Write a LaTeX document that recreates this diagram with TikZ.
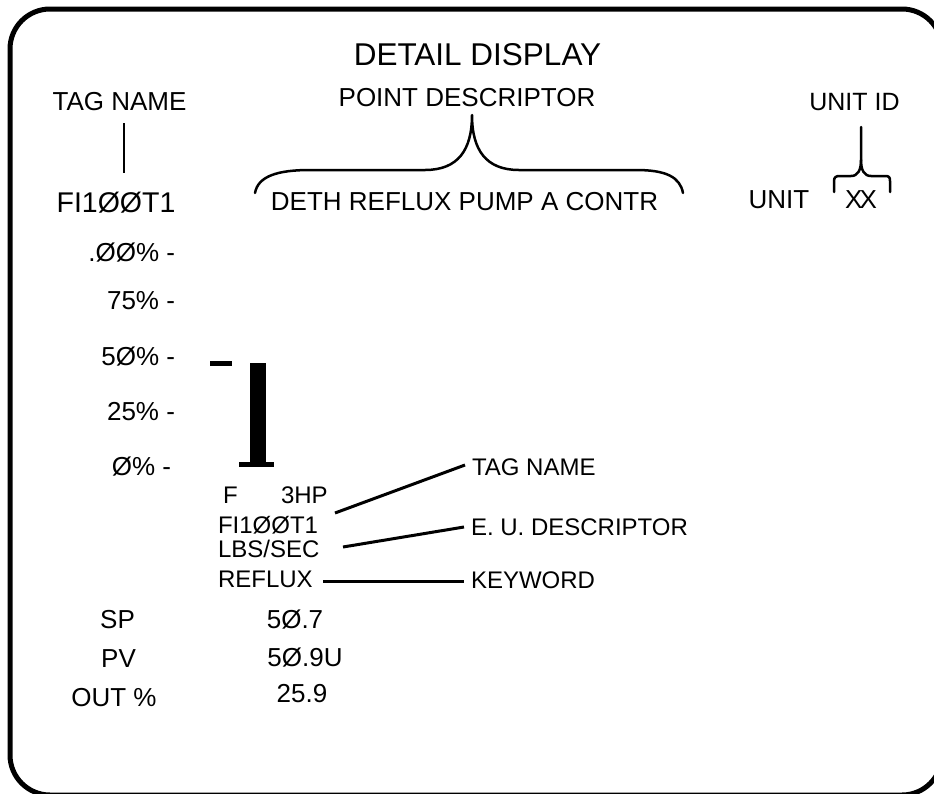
\documentclass[tikz,border=0pt]{standalone}
\usepackage{fontspec}
\setmainfont{Liberation Sans}
\begin{document}
\begin{tikzpicture}[x=1pt,y=-1pt,
  txt/.style={inner sep=0pt, outer sep=0pt, anchor=base},
  lefttxt/.style={inner sep=0pt, outer sep=0pt, anchor=base west},
  righttxt/.style={inner sep=0pt, outer sep=0pt, anchor=base east},
  big/.style={font=\fontsize{26}{30}\selectfont},
  small/.style={font=\fontsize{24}{28}\selectfont},
  frame/.style={line width=5pt, rounded corners=40pt},
  brace/.style={line width=2.5pt, line cap=round, line join=round},
  leader/.style={line width=3pt},
  barfill/.style={fill=black, draw=none}]
\useasboundingbox (0,0) rectangle (934,793);
\clip (0,0) rectangle (934,793);
\fill[white] (0,0) rectangle (934,793);
% frame
\draw[frame] (10,9) rectangle (942,795);
% header texts
\node[txt,font=\fontsize{31.5}{36}\selectfont] (title) at (477.5,65) {DETAIL DISPLAY};
\node[txt,big] (tagtop) at (119.5,110) {TAG NAME};
\node[txt,big] (pdesc) at (467,106) {POINT DESCRIPTOR};
\node[txt,font=\fontsize{25}{30}\selectfont] (unitid) at (854.5,110) {UNIT ID};
\node[txt,font=\fontsize{28.5}{32}\selectfont] (fitop) at (116,212) {FI1ØØT1};
\node[txt,big] (deth) at (464.5,210) {DETH REFLUX PUMP A CONTR};
\node[txt,big] (unit) at (779,208) {UNIT};
\node[txt,big] (xx) at (861,208) {X\kern-3ptX};
% tag name line
\coordinate (tl1) at (124,123);
\coordinate (tl2) at (124,173);
\draw[line width=2.5pt] (tl1) -- (tl2);
% point descriptor brace
\coordinate (pbl) at (255,193);
\coordinate (pbtip) at (472,115);
\coordinate (pbr) at (683,193);
\draw[brace] (pbl) .. controls (258,176) and (278,170) .. (310,170) -- (425,170)
  .. controls (458,170) and (472,150) .. (pbtip)
  .. controls (472,150) and (486,170) .. (519,170) -- (636,170)
  .. controls (666,170) and (680,177) .. (pbr);
% unit id brace
\coordinate (ubl) at (834,192);
\coordinate (ubtop) at (861,127);
\coordinate (ubr) at (890,192);
\draw[brace] (ubl) -- (834,181) .. controls (834,177) and (836,176) .. (840,176) -- (851,176)
  .. controls (858,176) and (861,170) .. (861,160) -- (ubtop);
\draw[brace] (861,160) .. controls (861,170) and (864,176) .. (871,176) -- (885,176)
  .. controls (889,176) and (890,177) .. (890,181) -- (ubr);
% scale
\node[righttxt,big] (s100) at (175,261) {.ØØ\% -};
\node[righttxt,big] (s75) at (175,309) {75\% -};
\node[righttxt,big] (s50) at (175,365) {5Ø\% -};
\node[righttxt,big] (s25) at (175,420) {25\% -};
\node[righttxt,big] (s0) at (171,475) {Ø\% -};
% bar graph
\fill[barfill] (210,361) rectangle (232,366);
\fill[barfill] (250,363) rectangle (266,463);
\fill[barfill] (239,462) rectangle (274,467);
% lower block
\node[lefttxt,small] (f) at (223,503) {F};
\node[lefttxt,small] (hp) at (281,503) {3HP};
\node[lefttxt,small] (fi2) at (218,533) {FI1ØØT1};
\node[lefttxt,small] (lbs) at (218,557) {LBS/SEC};
\node[lefttxt,small] (refl) at (218,587) {REFLUX};
\node[lefttxt,small] (tagr) at (472,475) {TAG NAME};
\node[lefttxt,small] (eud) at (471,535) {E. U. DESCRIPTOR};
\node[lefttxt,small] (kw) at (471,588) {KEYWORD};
\coordinate (a1) at (335,513);
\coordinate (a2) at (465,465);
\coordinate (b1) at (343,547);
\coordinate (b2) at (464,527);
\coordinate (c1) at (323,581);
\coordinate (c2) at (464,581);
\draw[leader] (a1) -- (a2);
\draw[leader] (b1) -- (b2);
\draw[leader] (c1) -- (c2);
% values
\node[txt,big] (sp) at (117.5,628) {SP};
\node[txt,big] (pv) at (118.5,667) {PV};
\node[txt,big] (out) at (114,706) {OUT \%};
\node[txt,big] (spv) at (295,628) {5Ø.7};
\node[txt,big] (pvv) at (305,666) {5Ø.9U};
\node[txt,big] (outv) at (302,702) {25.9};
\end{tikzpicture}
\end{document}
